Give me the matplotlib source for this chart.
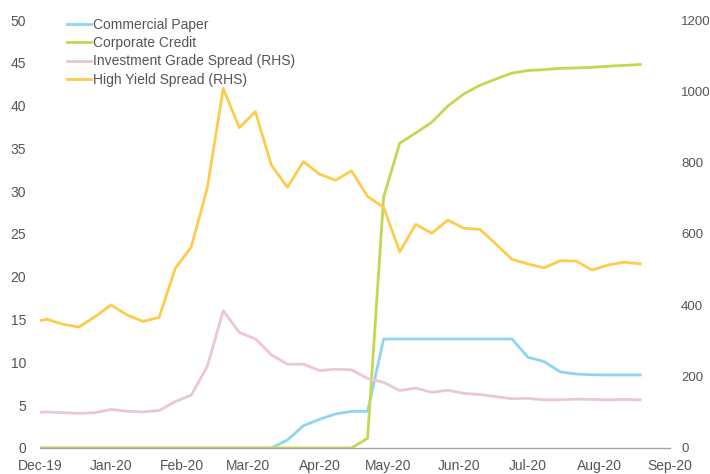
import matplotlib
matplotlib.use("Agg")
import matplotlib.pyplot as plt
import matplotlib.dates as mdates
import pandas as pd

plt.rcParams['font.family'] = ['Liberation Sans', 'DejaVu Sans']

# weekly observations (Wednesdays) plus the month start
dates = [pd.Timestamp("2019-12-01")] + list(pd.date_range("2019-12-04", "2020-08-19", freq="W-WED"))

commercial_paper = [0, 0, 0, 0, 0, 0, 0, 0, 0, 0, 0, 0, 0, 0, 0, 0,
                    0.93, 2.6, 3.35, 3.97, 4.28, 4.28, 12.73, 12.73, 12.73,
                    12.73, 12.73, 12.73, 12.73, 12.73, 12.73, 10.6, 10.1, 8.9,
                    8.64, 8.55, 8.53, 8.53, 8.53]
corporate_credit = [0, 0, 0, 0, 0, 0, 0, 0, 0, 0, 0, 0, 0, 0, 0, 0, 0, 0, 0,
                    0, 0, 1.13, 29.3, 35.6, 36.8, 38.05, 39.95, 41.36, 42.37,
                    43.1, 43.8, 44.1, 44.2, 44.35, 44.4, 44.47, 44.6, 44.7, 44.8]
ig_spread = [100, 101, 99, 97, 99, 108, 103, 101, 105, 130, 148, 228, 385,
             324, 306, 261, 235, 235, 217, 221, 219, 195, 184, 161, 168, 156,
             162, 153, 150, 144, 138, 139, 135, 135, 137, 136, 135, 136, 135]
hy_spread = [357, 361, 347, 339, 368, 401, 373, 355, 366, 503, 563, 728, 1008,
             898, 943, 793, 731, 803, 768, 751, 777, 705, 675, 550, 627, 602,
             639, 616, 613, 572, 529, 516, 505, 525, 524, 499, 513, 521, 516]

colors = {
    'Commercial Paper': '#8DD5F3',
    'Corporate Credit': '#C3D852',
    'Investment Grade Spread (RHS)': '#EAC8D3',
    'High Yield Spread (RHS)': '#FFCB4C',
}
text_color = '#555555'
fs = 10

fig = plt.figure(figsize=(7.1, 4.74), dpi=100)
ax = fig.add_axes([0.0563, 0.0549, 0.8874, 0.9029])
ax2 = ax.twinx()

lw = 2.0
l1, = ax.plot(dates, commercial_paper, color=colors['Commercial Paper'], lw=lw)
l2, = ax.plot(dates, corporate_credit, color=colors['Corporate Credit'], lw=lw)
l3, = ax2.plot(dates, ig_spread, color=colors['Investment Grade Spread (RHS)'], lw=lw)
l4, = ax2.plot(dates, hy_spread, color=colors['High Yield Spread (RHS)'], lw=lw)

ax.set_xlim(pd.Timestamp("2019-12-01"), pd.Timestamp("2020-09-01"))
ax.set_ylim(0, 50)
ax2.set_ylim(0, 1200)
ax.set_yticks(range(0, 51, 5))
ax2.set_yticks(range(0, 1201, 200))

ax.xaxis.set_major_locator(mdates.MonthLocator())
ax.xaxis.set_major_formatter(mdates.DateFormatter('%b-%y'))

for a in (ax, ax2):
    for s in ('top', 'left', 'right', 'bottom'):
        a.spines[s].set_visible(False)
    a.tick_params(length=0, labelsize=fs, labelcolor=text_color)
ax.spines['bottom'].set_visible(True)
ax.spines['bottom'].set_color('#A6A6A6')
ax.spines['bottom'].set_linewidth(1.0)
ax.tick_params(axis='y', pad=10)
ax2.tick_params(axis='y', pad=8, labelsize=9.5)
ax.tick_params(axis='x', pad=8)

leg = ax.legend([l1, l2, l3, l4],
                ['Commercial Paper', 'Corporate Credit',
                 'Investment Grade Spread (RHS)', 'High Yield Spread (RHS)'],
                loc='upper left', bbox_to_anchor=(0.034, 1.018), frameon=False,
                fontsize=fs, handlelength=1.75, handletextpad=0.1,
                labelspacing=0.31, borderaxespad=0)
for t in leg.get_texts():
    t.set_color(text_color)
leg.set_zorder(10)

fig.savefig('out.png', dpi=100)
